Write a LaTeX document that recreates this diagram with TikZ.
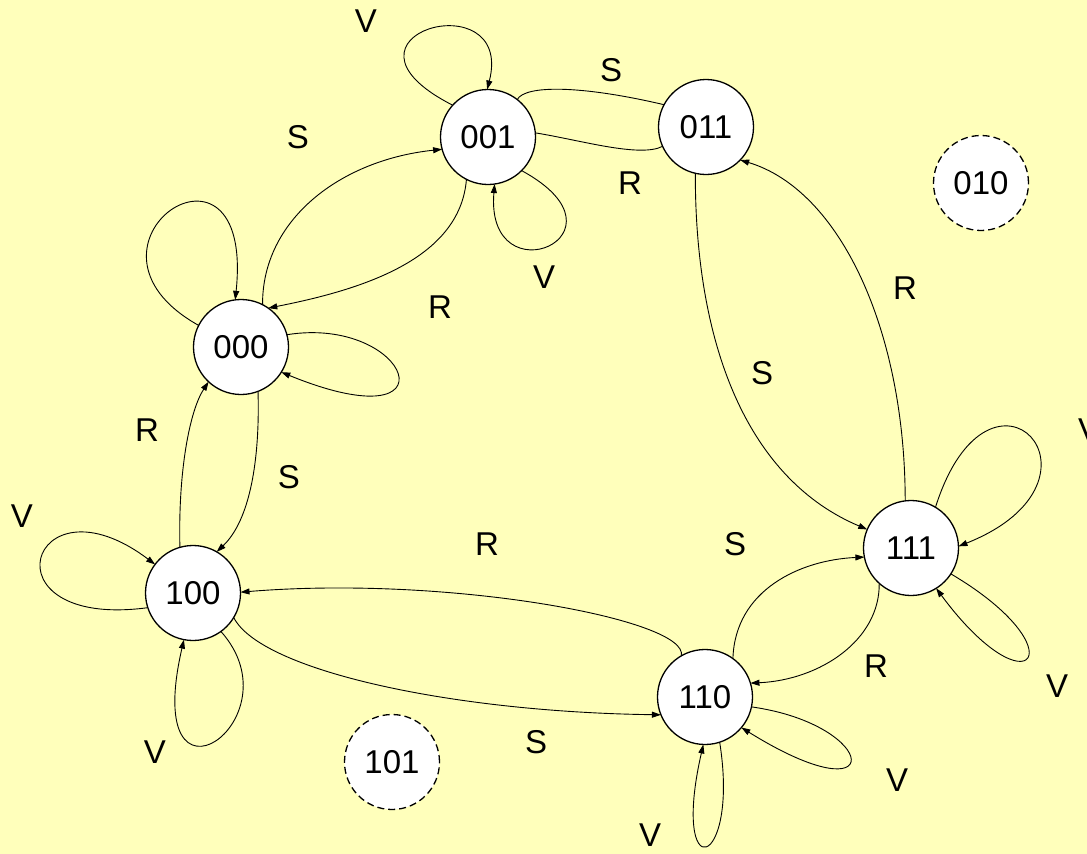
\documentclass[tikz,border=0pt]{standalone}
\usepackage{fontspec}
\setmainfont{Liberation Sans}
\usetikzlibrary{arrows.meta}
\definecolor{bgyellow}{RGB}{255,255,187}
\tikzset{
  st/.style={circle, draw=black, line width=1.3pt, fill=white, minimum size=95pt, inner sep=0pt, outer sep=0pt, font=\fontsize{33}{33}\selectfont},
  ghost/.style={st, dash pattern=on 7pt off 4pt},
  edge/.style={draw=black, line width=0.9pt, -{Triangle[length=9pt,width=6pt]}},
  plainedge/.style={draw=black, line width=0.9pt},
  lbl/.style={inner sep=0pt, font=\fontsize{33}{33}\selectfont}
}
\begin{document}
\begin{tikzpicture}[x=1pt,y=-1pt]
\useasboundingbox (0,0) rectangle (1087,854);
\fill[bgyellow] (0,0) rectangle (1087,854);
% states
\node[st] (n001) at (488,137) {001};
\node[st] (n011) at (706,127) {011};
\node[st] (n000) at (241,347) {000};
\node[st] (n100) at (193,593) {100};
\node[st] (n111) at (911,548) {111};
\node[st] (n110) at (705,697) {110};
\node[ghost] (n010) at (981,183) {010};
\node[ghost] (n101) at (392,762) {101};
% 001
\draw[edge] (n001.138) .. controls (315,35) and (515,-20) .. (n001.91);
\draw[edge] (n001.-45) .. controls (640,235) and (485,300) .. (n001.-82);
\draw[plainedge] (n001.52) .. controls (525,85) and (580,85) .. (n011.152);
\draw[plainedge] (n001.5) .. controls (580,140) and (640,158) .. (n011.204);
% 011 - 111
\draw[edge] (n011.257) .. controls (695,350) and (750,480) .. (n111.157);
\draw[edge] (n111.97) .. controls (905,330) and (840,190) .. (n011.-44);
% 111
\draw[edge] (n111.59) .. controls (990,335) and (1125,480) .. (n111.2);
\draw[edge] (n111.-33) .. controls (1080,650) and (1030,715) .. (n111.-58);
% 110 - 111
\draw[edge] (n110.54) .. controls (735,590) and (800,560) .. (n111.191);
\draw[edge] (n111.228) .. controls (880,640) and (820,680) .. (n110.17);
% 110
\draw[edge] (n110.-12) .. controls (880,725) and (890,820) .. (n110.-40);
\draw[edge] (n110.-72) .. controls (740,870) and (670,890) .. (n110.268);
% 110 - 100
\draw[edge] (n110.120) .. controls (690,620) and (450,575) .. (n100.1);
\draw[edge] (n100.-31) .. controls (260,670) and (450,712) .. (n110.202);
% 100
\draw[edge] (n100.198) .. controls (-20,630) and (30,470) .. (n100.143);
\draw[edge] (n100.-54) .. controls (300,720) and (140,830) .. (n100.259);
% 100 - 000
\draw[edge] (n100.106) .. controls (178,470) and (190,410) .. (n000.227);
\draw[edge] (n000.-69) .. controls (260,460) and (250,520) .. (n100.60);
% 000
\draw[edge] (n000.153) .. controls (55,245) and (255,110) .. (n000.97);
\draw[edge] (n000.15) .. controls (410,315) and (460,445) .. (n000.-32);
% 000 - 001
\draw[edge] (n000.63) .. controls (262,220) and (340,160) .. (n001.195);
\draw[edge] (n001.243) .. controls (460,260) and (360,290) .. (n000.55);
% labels
\node[lbl] (l1) at (366,21) {V};
\node[lbl] (l2) at (298,137) {S};
\node[lbl] (l3) at (611,70) {S};
\node[lbl] (l4) at (630,183) {R};
\node[lbl] (l5) at (544,277) {V};
\node[lbl] (l6) at (440,307) {R};
\node[lbl] (l7) at (905,288) {R};
\node[lbl] (l8) at (762,373) {S};
\node[lbl] (l9) at (147,430) {R};
\node[lbl] (l10) at (289,477) {S};
\node[lbl] (l11) at (22,516) {V};
\node[lbl] (l12) at (487,544) {R};
\node[lbl] (l13) at (735,544) {S};
\node[lbl] (l14) at (1089,430) {V};
\node[lbl] (l15) at (876,666) {R};
\node[lbl] (l16) at (1057,686) {V};
\node[lbl] (l17) at (155,752) {V};
\node[lbl] (l18) at (536,742) {S};
\node[lbl] (l19) at (897,780) {V};
\node[lbl] (l20) at (650,835) {V};
\end{tikzpicture}
\end{document}
